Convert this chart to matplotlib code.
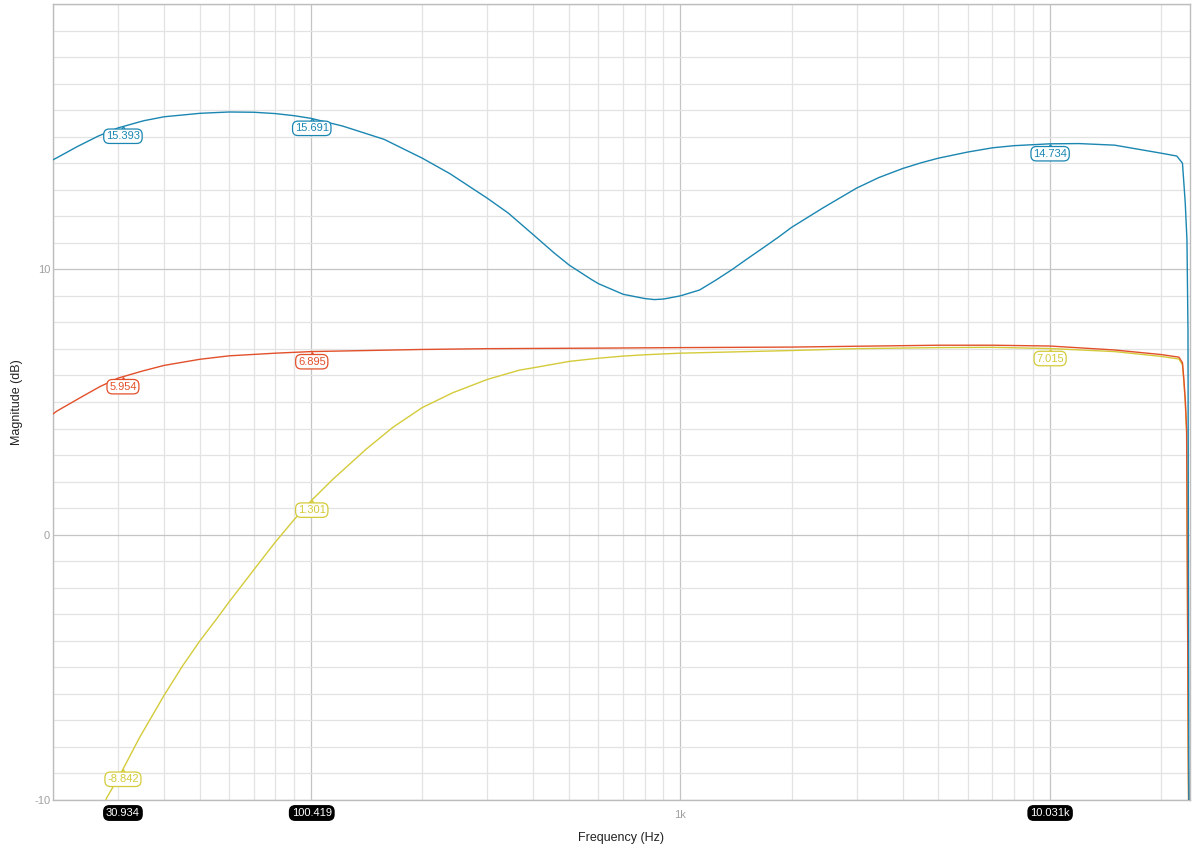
import matplotlib
matplotlib.use("Agg")
import matplotlib.pyplot as plt
from matplotlib.ticker import FixedLocator, NullFormatter
from matplotlib.transforms import offset_copy

plt.rcParams['font.family'] = ['Liberation Sans', 'DejaVu Sans']

# curves (Hz, dB)
blue_freq = [20, 20.4, 23.3, 26.5, 30, 35.2, 40, 50, 60, 70, 80, 90, 100, 121.7, 157.6, 200,
             238, 300, 342, 400, 455, 500, 574, 600, 700, 800, 850, 900, 1000, 1127, 1250,
             1380, 1530, 1700, 1850, 2000, 2430, 3000, 3450, 4000, 4500, 5000, 6000, 7000,
             8000, 10000, 12000, 15000, 20000, 22100, 22900, 23300, 23550, 23700, 23850]
blue_db = [14.13, 14.19, 14.63, 15.02, 15.33, 15.60, 15.75, 15.88, 15.93, 15.92, 15.87, 15.79,
           15.69, 15.40, 14.90, 14.19, 13.60, 12.68, 12.12, 11.30, 10.62, 10.16, 9.62, 9.46,
           9.06, 8.90, 8.86, 8.88, 9.00, 9.22, 9.60, 9.99, 10.43, 10.87, 11.23, 11.58, 12.31,
           13.06, 13.46, 13.80, 14.02, 14.19, 14.42, 14.58, 14.66, 14.73, 14.74, 14.68, 14.38,
           14.27, 14.0, 12.5, 11.1, 7.7, -12]

red_freq = [20, 20.5, 24.1, 26.8, 30, 35, 40, 50, 60, 80, 100, 200, 300, 600, 1000, 2000,
            5000, 7000, 10000, 15000, 20000, 22400, 22900, 23100, 23300, 23500, 23600, 23750,
            23850]
red_db = [4.55, 4.66, 5.22, 5.58, 5.90, 6.17, 6.38, 6.61, 6.74, 6.84, 6.90, 6.98, 7.01, 7.03,
          7.05, 7.07, 7.14, 7.14, 7.11, 6.96, 6.79, 6.69, 6.48, 5.85, 5.1, 3.97, -1.0, -8.5,
          -12]

yellow_freq = [27.5, 27.9, 30, 30.934, 34.3, 40, 45, 50, 55.3, 60, 70, 80, 90, 100.419, 114.4,
               140.9, 166.3, 200, 242, 300, 366.5, 400, 500, 600, 700, 800, 1000, 2000, 3000,
               5000, 7000, 10031, 15000, 20000, 22400, 22900, 23100, 23300, 23500, 23600,
               23750, 23850]
yellow_db = [-10.3, -9.94, -9.18, -8.842, -7.65, -6.05, -4.92, -4.0, -3.20, -2.53, -1.32, -0.28,
             0.57, 1.301, 2.08, 3.22, 4.04, 4.79, 5.35, 5.85, 6.20, 6.29, 6.53, 6.65, 6.73,
             6.78, 6.84, 6.94, 7.01, 7.05, 7.06, 7.015, 6.90, 6.72, 6.62, 6.4, 5.75, 5.0, 3.8,
             -1.2, -8.7, -12]

# cursor readouts
cursor_freq = [30.934, 100.419, 10031]
cursor_text = ['30.934', '100.419', '10.031k']
blue_marks = [(30.934, 15.393), (100.419, 15.691), (10031, 14.734)]
red_marks = [(30.934, 5.954), (100.419, 6.895)]
yellow_marks = [(30.934, -8.842), (100.419, 1.301), (10031, 7.015)]

BLUE = '#1a86b1'
RED = '#e2502b'
YELLOW = '#d4cb3a'

fig = plt.figure(figsize=(12.03, 8.56), dpi=100)
ax = fig.add_axes([53 / 1203, 56 / 856, 1137 / 1203, 796 / 856])

ax.set_xscale('log')
ax.set_xlim(20, 24000)
ax.set_ylim(-10, 20)

ax.plot(yellow_freq, yellow_db, color=YELLOW, lw=1.0, zorder=3)
ax.plot(red_freq, red_db, color=RED, lw=1.0, zorder=3.1)
ax.plot(blue_freq, blue_db, color=BLUE, lw=1.0, zorder=3.2)

# grid
ax.xaxis.set_major_locator(FixedLocator([100, 1000, 10000]))
ax.set_xticklabels(['', '1k', ''])
minor_x = [m * d for d in (10, 100, 1000, 10000) for m in range(2, 10) if 20 <= m * d <= 24000]
ax.xaxis.set_minor_locator(FixedLocator(minor_x))
ax.xaxis.set_minor_formatter(NullFormatter())
ax.yaxis.set_major_locator(FixedLocator([-10, 0, 10, 20]))
ax.set_yticklabels(['-10', '0', '10', ''])
ax.yaxis.set_minor_locator(FixedLocator(range(-10, 21)))
ax.grid(True, which='major', color='#c4c4c4', lw=0.9, zorder=0)
ax.grid(True, which='minor', color='#e3e3e3', lw=0.9, zorder=0)
ax.set_axisbelow(True)
ax.tick_params(which='both', length=0)
ax.tick_params(axis='x', pad=7, labelsize=8, labelcolor='#a0a0a0')
ax.tick_params(axis='y', pad=2, labelsize=8, labelcolor='#a0a0a0')
for s in ax.spines.values():
    s.set_color('#bdbdbd')
    s.set_linewidth(1.0)

ax.set_xlabel('Frequency (Hz)', fontsize=9, color='#222222')
ax.set_ylabel('Magnitude (dB)', fontsize=9, color='#222222')
ax.xaxis.set_label_coords(0.5, -38 / 796)
ax.yaxis.set_label_coords(-36 / 1137, 0.5)
ax.xaxis.label.set_va('center')
ax.yaxis.label.set_va('center')

# value labels under each curve at the cursors
tri_tf = offset_copy(ax.transData, fig=fig, x=0, y=-3, units='dots')
for marks, col in [(yellow_marks, YELLOW), (red_marks, RED), (blue_marks, BLUE)]:
    for f, v in marks:
        ax.plot([f], [v], marker='^', ms=5, mfc='white', mec=col, mew=0.9,
                transform=tri_tf, zorder=6, clip_on=False)
        ax.annotate(f'{v:.3f}', xy=(f, v), xytext=(0, -10), textcoords='offset pixels',
                    ha='center', va='center', fontsize=8, color=col, zorder=7,
                    bbox=dict(boxstyle='round,pad=0.2,rounding_size=0.5', fc='white',
                              ec=col, lw=0.9))

# cursor frequency tags under the axis
for f, t in zip(cursor_freq, cursor_text):
    ax.annotate(t, xy=(f, 0), xycoords=('data', 'axes fraction'), xytext=(0, -13),
                textcoords='offset pixels', ha='center', va='center', fontsize=8,
                color='white', zorder=8, annotation_clip=False,
                bbox=dict(boxstyle='round,pad=0.2,rounding_size=0.5', fc='black', ec='black'))

fig.savefig('out.png', dpi=100)
